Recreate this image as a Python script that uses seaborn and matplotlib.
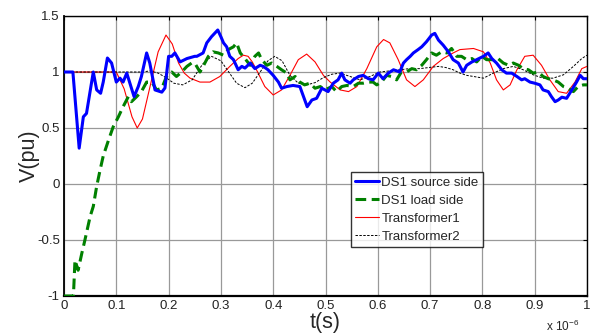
import numpy as np
import pandas as pd
import matplotlib
matplotlib.use("Agg")
import matplotlib.pyplot as plt
import seaborn as sns

# time in units of 1e-6 s
t_src = [0, 0.017, 0.029, 0.037, 0.043, 0.056, 0.0625, 0.070, 0.075, 0.083, 0.091, 0.100, 0.107, 0.113, 0.120,
         0.126, 0.134, 0.142, 0.148, 0.158, 0.164, 0.174, 0.187, 0.193, 0.200, 0.206, 0.212, 0.222, 0.235, 0.250,
         0.254, 0.266, 0.273, 0.282, 0.294, 0.300, 0.305, 0.311, 0.317, 0.324, 0.333, 0.340, 0.346, 0.356, 0.365,
         0.375, 0.381, 0.390, 0.400, 0.410, 0.416, 0.426, 0.438, 0.451, 0.458, 0.465, 0.474, 0.483, 0.493, 0.505,
         0.515, 0.524, 0.531, 0.537, 0.547, 0.553, 0.563, 0.572, 0.582, 0.591, 0.601, 0.610, 0.620, 0.630, 0.642,
         0.649, 0.655, 0.662, 0.668, 0.677, 0.684, 0.693, 0.703, 0.709, 0.716, 0.725, 0.735, 0.744, 0.754, 0.763,
         0.770, 0.780, 0.789, 0.802, 0.811, 0.818, 0.827, 0.837, 0.846, 0.856, 0.866, 0.875, 0.881, 0.891, 0.900,
         0.910, 0.916, 0.926, 0.932, 0.939, 0.945, 0.952, 0.961, 0.971, 0.980, 0.987, 0.993, 1.0]
v_src = [1.0, 1.0, 0.32, 0.60, 0.63, 1.0, 0.84, 0.81, 0.91, 1.125, 1.08, 0.91, 0.945, 0.91, 0.99,
         0.90, 0.78, 0.87, 0.96, 1.17, 1.08, 0.84, 0.82, 0.857, 1.14, 1.14, 1.17, 1.09, 1.12, 1.14,
         1.14, 1.17, 1.26, 1.315, 1.375, 1.315, 1.26, 1.225, 1.14, 1.11, 1.02, 1.05, 1.035, 1.08, 1.03,
         1.06, 1.05, 1.02, 0.97, 0.91, 0.855, 0.87, 0.88, 0.87, 0.78, 0.69, 0.75, 0.765, 0.855, 0.825,
         0.90, 0.93, 0.99, 0.93, 0.90, 0.93, 0.96, 0.97, 0.94, 0.93, 0.99, 0.94, 0.99, 1.02, 1.0,
         1.08, 1.11, 1.14, 1.17, 1.20, 1.225, 1.27, 1.33, 1.345, 1.285, 1.24, 1.18, 1.11, 1.08, 1.0,
         1.06, 1.09, 1.11, 1.14, 1.17, 1.12, 1.08, 1.02, 0.99, 0.99, 0.96, 0.93, 0.94, 0.91, 0.90,
         0.885, 0.84, 0.825, 0.78, 0.735, 0.75, 0.775, 0.765, 0.84, 0.91, 0.97, 0.94, 0.94]

t_load = [0, 0.015, 0.018, 0.021, 0.027, 0.034, 0.040, 0.050, 0.056, 0.0625, 0.069, 0.075, 0.085, 0.094, 0.104,
          0.113, 0.123, 0.129, 0.139, 0.148, 0.158, 0.168, 0.177, 0.187, 0.196, 0.206, 0.215, 0.225, 0.235, 0.244,
          0.250, 0.260, 0.266, 0.276, 0.285, 0.295, 0.305, 0.314, 0.324, 0.330, 0.337, 0.346, 0.356, 0.365, 0.372,
          0.378, 0.388, 0.397, 0.407, 0.416, 0.426, 0.432, 0.442, 0.451, 0.460, 0.470, 0.480, 0.490, 0.499, 0.512,
          0.521, 0.531, 0.541, 0.553, 0.563, 0.572, 0.582, 0.591, 0.598, 0.607, 0.617, 0.626, 0.636, 0.645, 0.655,
          0.665, 0.674, 0.684, 0.693, 0.703, 0.712, 0.722, 0.732, 0.741, 0.751, 0.760, 0.770, 0.780, 0.789, 0.799,
          0.808, 0.821, 0.830, 0.840, 0.850, 0.859, 0.869, 0.878, 0.888, 0.897, 0.907, 0.916, 0.926, 0.935, 0.945,
          0.955, 0.964, 0.974, 0.983, 0.993, 1.0]
v_load = [-1.0, -1.0, -1.0, -0.68, -0.77, -0.62, -0.5, -0.29, -0.20, -0.02, 0.125, 0.25, 0.39, 0.51, 0.60,
          0.69, 0.78, 0.735, 0.78, 0.825, 0.91, 0.91, 0.84, 0.855, 0.96, 1.0, 0.96, 1.0, 1.05, 1.08,
          1.08, 1.0, 1.05, 1.14, 1.18, 1.17, 1.15, 1.20, 1.225, 1.26, 1.17, 1.12, 1.06, 1.14, 1.17,
          1.11, 1.06, 1.08, 1.05, 1.02, 0.99, 0.93, 0.96, 0.91, 0.885, 0.90, 0.855, 0.87, 0.84, 0.87,
          0.825, 0.87, 0.88, 0.87, 0.90, 0.90, 0.91, 0.91, 0.885, 0.91, 0.97, 0.96, 0.93, 1.0, 1.0,
          1.03, 1.02, 1.06, 1.11, 1.17, 1.15, 1.18, 1.17, 1.21, 1.14, 1.14, 1.11, 1.12, 1.09, 1.14,
          1.11, 1.11, 1.12, 1.08, 1.06, 1.08, 1.06, 1.03, 1.02, 0.99, 1.0, 0.96, 0.94, 0.93, 0.91,
          0.87, 0.855, 0.825, 0.87, 0.885, 0.885]

t_tr1 = [0, 0.10, 0.115, 0.13, 0.14, 0.15, 0.165, 0.18, 0.195, 0.207, 0.219, 0.23, 0.241, 0.26, 0.279, 0.298,
         0.317, 0.333, 0.343, 0.352, 0.36, 0.368, 0.384, 0.40, 0.416, 0.432, 0.448, 0.464, 0.48, 0.496, 0.509,
         0.528, 0.544, 0.56, 0.579, 0.598, 0.611, 0.623, 0.639, 0.655, 0.671, 0.687, 0.706, 0.725, 0.744, 0.757,
         0.783, 0.802, 0.815, 0.827, 0.84, 0.853, 0.866, 0.881, 0.897, 0.913, 0.929, 0.945, 0.961, 0.977, 0.99, 1.0]
v_tr1 = [1.0, 1.0, 0.85, 0.60, 0.50, 0.58, 0.88, 1.18, 1.33, 1.25, 1.08, 0.99, 0.945, 0.91, 0.91, 0.96,
         1.05, 1.12, 1.15, 1.14, 1.09, 1.02, 0.87, 0.795, 0.84, 0.97, 1.11, 1.16, 1.09, 0.97, 0.91,
         0.84, 0.825, 0.87, 1.03, 1.225, 1.29, 1.26, 1.11, 0.93, 0.87, 0.93, 1.05, 1.12, 1.17, 1.2,
         1.21, 1.18, 1.08, 0.93, 0.84, 0.885, 1.02, 1.14, 1.15, 1.06, 0.93, 0.825, 0.81, 0.91, 1.03, 1.05]

t_tr2 = [0, 0.15, 0.165, 0.18, 0.195, 0.21, 0.227, 0.245, 0.265, 0.282, 0.30, 0.315, 0.33, 0.346, 0.36, 0.375,
         0.39, 0.403, 0.417, 0.432, 0.448, 0.464, 0.48, 0.496, 0.512, 0.528, 0.547, 0.566, 0.585, 0.604, 0.623,
         0.642, 0.66, 0.68, 0.698, 0.716, 0.73, 0.744, 0.757, 0.77, 0.783, 0.802, 0.821, 0.84, 0.859, 0.878,
         0.897, 0.916, 0.935, 0.955, 0.974, 0.99, 1.0]
v_tr2 = [1.0, 1.0, 1.01, 0.99, 0.95, 0.9, 0.885, 0.93, 1.07, 1.14, 1.1, 1.0, 0.9, 0.86, 0.9, 1.0,
         1.1, 1.14, 1.1, 0.97, 0.9, 0.885, 0.905, 0.95, 0.98, 0.99, 0.96, 0.93, 0.96, 1.0, 1.01,
         1.02, 1.03, 1.03, 1.04, 1.05, 1.04, 1.02, 0.99, 0.97, 0.96, 0.945, 0.99, 1.03, 1.05, 1.02,
         0.975, 0.945, 0.945, 0.975, 1.05, 1.12, 1.15]

labels = ["DS1 source side", "DS1 load side", "Transformer1", "Transformer2"]
x_ticks = [0, 0.1, 0.2, 0.3, 0.4, 0.5, 0.6, 0.7, 0.8, 0.9, 1]
x_ticklabels = ["0", "0.1", "0.2", "0.3", "0.4", "0.5", "0.6", "0.7", "0.8", "0.9", "1"]
y_ticks = [-1, -0.5, 0, 0.5, 1, 1.5]
y_ticklabels = ["-1", "-0.5", "0", "0.5", "1", "1.5"]

sns.set_style("white")
plt.rcParams['font.family'] = ['Liberation Sans', 'DejaVu Sans']
plt.rcParams['axes.unicode_minus'] = False
plt.rcParams['mathtext.fontset'] = 'custom'
plt.rcParams['mathtext.rm'] = 'Liberation Sans'

fig = plt.figure(figsize=(5.96, 3.36), dpi=100)
ax = fig.add_axes([64/596, 1-296/336, (587-64)/596, (296-16)/336])

df1 = pd.DataFrame({"t": t_src, "v": v_src})
df2 = pd.DataFrame({"t": t_load, "v": v_load})
df3 = pd.DataFrame({"t": t_tr1, "v": v_tr1})
df4 = pd.DataFrame({"t": t_tr2, "v": v_tr2})

sns.lineplot(data=df3, x="t", y="v", ax=ax, color="#ff0000", lw=0.8, label=labels[2], estimator=None, zorder=3)
sns.lineplot(data=df4, x="t", y="v", ax=ax, color="black", lw=0.7, label=labels[3], estimator=None, zorder=3)
sns.lineplot(data=df2, x="t", y="v", ax=ax, color="#008000", lw=2.2, label=labels[1], estimator=None, zorder=4)
sns.lineplot(data=df1, x="t", y="v", ax=ax, color="#0000ff", lw=2.2, label=labels[0], estimator=None, zorder=5)

lines = ax.get_lines()
lines[1].set_dashes((2.5, 1.5))
lines[2].set_dashes((3.5, 1.8))

ax.set_xlim(0, 1)
ax.set_ylim(-1, 1.5)
ax.set_xticks(x_ticks)
ax.set_xticklabels(x_ticklabels)
ax.set_yticks(y_ticks)
ax.set_yticklabels(y_ticklabels)
ax.tick_params(direction="in", length=3, width=0.8, labelsize=9.5, top=True, right=True,
               colors="black", labelcolor="#222222", pad=3)
ax.grid(True, color="#999999", lw=0.9)
for s in ax.spines.values():
    s.set_visible(True)
    s.set_color("black")
    s.set_linewidth(1.0)
ax.spines["bottom"].set_linewidth(1.6)
ax.spines["left"].set_linewidth(1.3)

ax.set_xlabel("t(s)", fontsize=15.5, labelpad=0)
ax.set_ylabel("V(pu)", fontsize=15.5, labelpad=-2)
ax.text(0.985, -0.08, "x 10$^{-6}$", transform=ax.transAxes, ha="right", va="top", fontsize=8.5)

h, l = ax.get_legend_handles_labels()
order = [l.index(x) for x in labels]
leg = ax.legend([h[i] for i in order], [l[i] for i in order], loc="lower left",
                bbox_to_anchor=(0.549, 0.175), fontsize=9.5, frameon=True, fancybox=False,
                edgecolor="black", handlelength=1.8, handletextpad=0.2, borderpad=0.3,
                labelspacing=0.45, borderaxespad=0)
leg.get_frame().set_linewidth(1.0)

fig.savefig("out.png", dpi=100)
